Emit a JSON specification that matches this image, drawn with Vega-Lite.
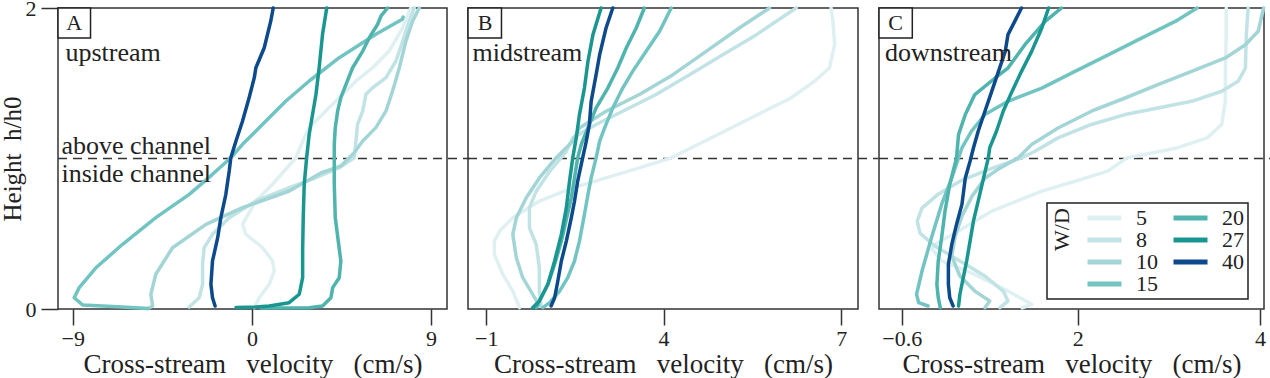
{
  "$schema": "https://vega.github.io/schema/vega-lite/v6.json",
  "padding": {"left": -1, "top": -4, "right": 0, "bottom": 0},
  "background": "white",
  "config": {
    "view": {"stroke": "#333", "strokeWidth": 1.5},
    "axis": {"labelFont": "Liberation Serif", "titleFont": "Liberation Serif", "labelFontSize": 22, "titleFontSize": 27, "labelColor": "#222", "titleColor": "#222", "tickColor": "#333", "tickWidth": 1.5, "grid": false, "domain": false, "titleFontWeight": "normal"},
    "text": {"font": "Liberation Serif", "color": "#222"}
  },
  "bounds": "flush",
  "spacing": 21,
  "resolve": {"scale": {"x": "independent", "color": "independent"}, "legend": {"color": "independent"}},
  "datasets": {
    "A": [
      {"wd":"5","v":7.99,"h":2.0},{"wd":"5","v":7.91,"h":1.98},{"wd":"5","v":7.58,"h":1.869},{"wd":"5","v":6.9,"h":1.714},{"wd":"5","v":6.07,"h":1.603},{"wd":"5","v":5.23,"h":1.515},{"wd":"5","v":4.39,"h":1.404},{"wd":"5","v":3.55,"h":1.294},{"wd":"5","v":2.88,"h":1.205},{"wd":"5","v":2.55,"h":1.116},{"wd":"5","v":2.21,"h":1.005},{"wd":"5","v":1.04,"h":0.829},{"wd":"5","v":0.2,"h":0.718},{"wd":"5","v":-0.47,"h":0.563},{"wd":"5","v":-0.3,"h":0.496},{"wd":"5","v":0.54,"h":0.407},{"wd":"5","v":1.04,"h":0.319},{"wd":"5","v":1.12,"h":0.252},{"wd":"5","v":0.87,"h":0.164},{"wd":"5","v":0.37,"h":0.075},{"wd":"5","v":0.12,"h":0.009},
      {"wd":"8","v":8.16,"h":2.0},{"wd":"8","v":7.91,"h":1.914},{"wd":"8","v":7.58,"h":1.781},{"wd":"8","v":7.24,"h":1.648},{"wd":"8","v":6.74,"h":1.537},{"wd":"8","v":6.07,"h":1.47},{"wd":"8","v":5.73,"h":1.427},{"wd":"8","v":5.57,"h":1.316},{"wd":"8","v":5.31,"h":1.227},{"wd":"8","v":5.23,"h":1.116},{"wd":"8","v":5.14,"h":1.005},{"wd":"8","v":4.39,"h":0.939},{"wd":"8","v":3.22,"h":0.872},{"wd":"8","v":1.88,"h":0.806},{"wd":"8","v":0.2,"h":0.718},{"wd":"8","v":-1.14,"h":0.607},{"wd":"8","v":-1.98,"h":0.496},{"wd":"8","v":-2.4,"h":0.407},{"wd":"8","v":-2.48,"h":0.297},{"wd":"8","v":-2.48,"h":0.164},{"wd":"8","v":-2.65,"h":0.075},{"wd":"8","v":-3.15,"h":0.013},
      {"wd":"10","v":8.41,"h":2.0},{"wd":"10","v":8.08,"h":1.914},{"wd":"10","v":7.74,"h":1.781},{"wd":"10","v":7.41,"h":1.603},{"wd":"10","v":7.07,"h":1.449},{"wd":"10","v":6.74,"h":1.316},{"wd":"10","v":6.23,"h":1.205},{"wd":"10","v":5.57,"h":1.116},{"wd":"10","v":5.13,"h":1.037},{"wd":"10","v":4.47,"h":0.95},{"wd":"10","v":3.47,"h":0.904},{"wd":"10","v":1.88,"h":0.784},{"wd":"10","v":-0.47,"h":0.673},{"wd":"10","v":-2.31,"h":0.562},{"wd":"10","v":-3.99,"h":0.407},{"wd":"10","v":-4.83,"h":0.231},{"wd":"10","v":-5.08,"h":0.098},{"wd":"10","v":-4.99,"h":0.02},{"wd":"10","v":-5.23,"h":0.003},
      {"wd":"15","v":7.6,"h":1.94},{"wd":"15","v":7.56,"h":1.925},{"wd":"15","v":6.23,"h":1.825},{"wd":"15","v":4.39,"h":1.67},{"wd":"15","v":2.88,"h":1.515},{"wd":"15","v":1.71,"h":1.382},{"wd":"15","v":0.54,"h":1.227},{"wd":"15","v":-0.47,"h":1.094},{"wd":"15","v":-1.06,"h":1.005},{"wd":"15","v":-1.98,"h":0.895},{"wd":"15","v":-3.15,"h":0.762},{"wd":"15","v":-4.83,"h":0.607},{"wd":"15","v":-6.5,"h":0.43},{"wd":"15","v":-7.84,"h":0.274},{"wd":"15","v":-8.68,"h":0.142},{"wd":"15","v":-8.93,"h":0.075},{"wd":"15","v":-8.51,"h":0.027},{"wd":"15","v":-6.5,"h":0.013},{"wd":"15","v":-5.23,"h":0.003},
      {"wd":"20","v":6.82,"h":2.0},{"wd":"20","v":6.49,"h":1.947},{"wd":"20","v":6.32,"h":1.892},{"wd":"20","v":5.9,"h":1.803},{"wd":"20","v":5.57,"h":1.714},{"wd":"20","v":5.06,"h":1.603},{"wd":"20","v":4.73,"h":1.493},{"wd":"20","v":4.47,"h":1.404},{"wd":"20","v":4.31,"h":1.316},{"wd":"20","v":4.19,"h":1.205},{"wd":"20","v":4.14,"h":1.094},{"wd":"20","v":4.14,"h":0.829},{"wd":"20","v":4.19,"h":0.607},{"wd":"20","v":4.36,"h":0.43},{"wd":"20","v":4.47,"h":0.319},{"wd":"20","v":4.39,"h":0.208},{"wd":"20","v":4.06,"h":0.142},{"wd":"20","v":3.97,"h":0.075},{"wd":"20","v":3.55,"h":0.02},{"wd":"20","v":2.88,"h":0.009},{"wd":"20","v":0.45,"h":0.007},
      {"wd":"27","v":3.76,"h":2.0},{"wd":"27","v":3.55,"h":1.825},{"wd":"27","v":3.38,"h":1.603},{"wd":"27","v":3.22,"h":1.427},{"wd":"27","v":3.05,"h":1.294},{"wd":"27","v":2.88,"h":1.161},{"wd":"27","v":2.75,"h":1.005},{"wd":"27","v":2.63,"h":0.829},{"wd":"27","v":2.58,"h":0.607},{"wd":"27","v":2.55,"h":0.385},{"wd":"27","v":2.55,"h":0.208},{"wd":"27","v":2.38,"h":0.098},{"wd":"27","v":1.87,"h":0.042},{"wd":"27","v":0.87,"h":0.02},{"wd":"27","v":0.2,"h":0.013},{"wd":"27","v":-0.8,"h":0.01},
      {"wd":"40","v":1.07,"h":2.0},{"wd":"40","v":0.95,"h":1.914},{"wd":"40","v":0.62,"h":1.736},{"wd":"40","v":0.2,"h":1.603},{"wd":"40","v":0.12,"h":1.537},{"wd":"40","v":-0.14,"h":1.404},{"wd":"40","v":-0.47,"h":1.249},{"wd":"40","v":-0.8,"h":1.116},{"wd":"40","v":-1.06,"h":1.005},{"wd":"40","v":-1.14,"h":0.917},{"wd":"40","v":-1.31,"h":0.762},{"wd":"40","v":-1.56,"h":0.607},{"wd":"40","v":-1.72,"h":0.474},{"wd":"40","v":-1.98,"h":0.319},{"wd":"40","v":-2.06,"h":0.164},{"wd":"40","v":-1.98,"h":0.075},{"wd":"40","v":-1.85,"h":0.02}
    ],
    "B": [
      {"wd":"5","v":6.83,"h":2.0},{"wd":"5","v":6.86,"h":1.911},{"wd":"5","v":6.89,"h":1.756},{"wd":"5","v":6.8,"h":1.601},{"wd":"5","v":6.55,"h":1.513},{"wd":"5","v":6.15,"h":1.402},{"wd":"5","v":5.7,"h":1.314},{"wd":"5","v":5.14,"h":1.203},{"wd":"5","v":4.58,"h":1.093},{"wd":"5","v":4.13,"h":1.004},{"wd":"5","v":3.32,"h":0.938},{"wd":"5","v":2.38,"h":0.871},{"wd":"5","v":1.44,"h":0.805},{"wd":"5","v":0.5,"h":0.717},{"wd":"5","v":-0.25,"h":0.606},{"wd":"5","v":-0.62,"h":0.518},{"wd":"5","v":-0.77,"h":0.451},{"wd":"5","v":-0.77,"h":0.363},{"wd":"5","v":-0.53,"h":0.23},{"wd":"5","v":-0.25,"h":0.119},{"wd":"5","v":-0.06,"h":0.009},
      {"wd":"8","v":6.24,"h":2.0},{"wd":"8","v":5.57,"h":1.823},{"wd":"8","v":5.0,"h":1.69},{"wd":"8","v":4.44,"h":1.557},{"wd":"8","v":3.79,"h":1.425},{"wd":"8","v":2.85,"h":1.314},{"wd":"8","v":2.1,"h":1.226},{"wd":"8","v":1.44,"h":1.137},{"wd":"8","v":1.26,"h":1.048},{"wd":"8","v":0.79,"h":0.915},{"wd":"8","v":0.41,"h":0.783},{"wd":"8","v":0.22,"h":0.672},{"wd":"8","v":0.22,"h":0.539},{"wd":"8","v":0.41,"h":0.429},{"wd":"8","v":0.5,"h":0.274},{"wd":"8","v":0.5,"h":0.119},{"wd":"8","v":0.55,"h":0.02},
      {"wd":"10","v":5.79,"h":2.0},{"wd":"10","v":5.28,"h":1.867},{"wd":"10","v":4.72,"h":1.712},{"wd":"10","v":4.16,"h":1.557},{"wd":"10","v":3.32,"h":1.425},{"wd":"10","v":2.38,"h":1.314},{"wd":"10","v":1.63,"h":1.203},{"wd":"10","v":1.44,"h":1.115},{"wd":"10","v":0.97,"h":1.004},{"wd":"10","v":0.5,"h":0.871},{"wd":"10","v":0.13,"h":0.739},{"wd":"10","v":-0.15,"h":0.606},{"wd":"10","v":-0.25,"h":0.496},{"wd":"10","v":-0.15,"h":0.34},{"wd":"10","v":0.03,"h":0.208},{"wd":"10","v":0.31,"h":0.098},{"wd":"10","v":0.5,"h":0.02},
      {"wd":"15","v":4.13,"h":2.0},{"wd":"15","v":3.89,"h":1.845},{"wd":"15","v":3.51,"h":1.712},{"wd":"15","v":3.13,"h":1.579},{"wd":"15","v":2.85,"h":1.468},{"wd":"15","v":2.57,"h":1.336},{"wd":"15","v":2.34,"h":1.203},{"wd":"15","v":2.2,"h":1.115},{"wd":"15","v":2.1,"h":1.004},{"wd":"15","v":1.96,"h":0.871},{"wd":"15","v":1.87,"h":0.761},{"wd":"15","v":1.77,"h":0.628},{"wd":"15","v":1.63,"h":0.451},{"wd":"15","v":1.49,"h":0.319},{"wd":"15","v":1.3,"h":0.208},{"wd":"15","v":1.07,"h":0.119},{"wd":"15","v":0.79,"h":0.042},{"wd":"15","v":0.6,"h":0.009},
      {"wd":"20","v":3.46,"h":2.0},{"wd":"20","v":3.23,"h":1.867},{"wd":"20","v":2.95,"h":1.734},{"wd":"20","v":2.71,"h":1.601},{"wd":"20","v":2.43,"h":1.468},{"wd":"20","v":2.1,"h":1.336},{"wd":"20","v":1.87,"h":1.203},{"wd":"20","v":1.68,"h":1.093},{"wd":"20","v":1.58,"h":1.004},{"wd":"20","v":1.49,"h":0.871},{"wd":"20","v":1.4,"h":0.739},{"wd":"20","v":1.27,"h":0.606},{"wd":"20","v":1.12,"h":0.451},{"wd":"20","v":0.93,"h":0.297},{"wd":"20","v":0.74,"h":0.164},{"wd":"20","v":0.5,"h":0.053},{"wd":"20","v":0.41,"h":0.009},
      {"wd":"27","v":2.24,"h":2.0},{"wd":"27","v":2.01,"h":1.823},{"wd":"27","v":1.87,"h":1.646},{"wd":"27","v":1.77,"h":1.468},{"wd":"27","v":1.63,"h":1.292},{"wd":"27","v":1.54,"h":1.137},{"wd":"27","v":1.44,"h":1.004},{"wd":"27","v":1.35,"h":0.849},{"wd":"27","v":1.26,"h":0.672},{"wd":"27","v":1.12,"h":0.496},{"wd":"27","v":0.93,"h":0.319},{"wd":"27","v":0.74,"h":0.164},{"wd":"27","v":0.5,"h":0.053},{"wd":"27","v":0.31,"h":0.009},
      {"wd":"40","v":2.57,"h":2.0},{"wd":"40","v":2.38,"h":1.867},{"wd":"40","v":2.2,"h":1.69},{"wd":"40","v":2.1,"h":1.557},{"wd":"40","v":1.96,"h":1.38},{"wd":"40","v":1.91,"h":1.226},{"wd":"40","v":1.82,"h":1.112},{"wd":"40","v":1.72,"h":1.004},{"wd":"40","v":1.58,"h":0.849},{"wd":"40","v":1.49,"h":0.716},{"wd":"40","v":1.4,"h":0.606},{"wd":"40","v":1.26,"h":0.451},{"wd":"40","v":1.12,"h":0.319},{"wd":"40","v":1.02,"h":0.186},{"wd":"40","v":0.93,"h":0.075},{"wd":"40","v":0.83,"h":0.02}
    ],
    "C": [
      {"wd":"5","v":3.63,"h":2.0},{"wd":"5","v":3.63,"h":1.823},{"wd":"5","v":3.62,"h":1.601},{"wd":"5","v":3.62,"h":1.38},{"wd":"5","v":3.58,"h":1.226},{"wd":"5","v":3.42,"h":1.137},{"wd":"5","v":3.09,"h":1.07},{"wd":"5","v":2.54,"h":1.004},{"wd":"5","v":2.33,"h":0.916},{"wd":"5","v":1.96,"h":0.849},{"wd":"5","v":1.47,"h":0.783},{"wd":"5","v":0.73,"h":0.65},{"wd":"5","v":0.24,"h":0.518},{"wd":"5","v":-0.11,"h":0.429},{"wd":"5","v":-0.15,"h":0.398},{"wd":"5","v":-0.01,"h":0.319},{"wd":"5","v":0.48,"h":0.23},{"wd":"5","v":0.97,"h":0.119},{"wd":"5","v":1.32,"h":0.031},{"wd":"5","v":1.18,"h":0.007},
      {"wd":"8","v":3.87,"h":2.0},{"wd":"8","v":3.85,"h":1.823},{"wd":"8","v":3.84,"h":1.601},{"wd":"8","v":3.76,"h":1.513},{"wd":"8","v":3.58,"h":1.447},{"wd":"8","v":3.25,"h":1.38},{"wd":"8","v":2.88,"h":1.336},{"wd":"8","v":2.52,"h":1.292},{"wd":"8","v":2.15,"h":1.226},{"wd":"8","v":1.71,"h":1.137},{"wd":"8","v":1.37,"h":1.048},{"wd":"8","v":1.17,"h":1.004},{"wd":"8","v":0.7,"h":0.929},{"wd":"8","v":0.26,"h":0.849},{"wd":"8","v":-0.06,"h":0.763},{"wd":"8","v":-0.3,"h":0.67},{"wd":"8","v":-0.37,"h":0.584},{"wd":"8","v":-0.33,"h":0.504},{"wd":"8","v":-0.11,"h":0.418},{"wd":"8","v":0.26,"h":0.319},{"wd":"8","v":0.63,"h":0.219},{"wd":"8","v":0.9,"h":0.119},{"wd":"8","v":0.97,"h":0.053},{"wd":"8","v":0.85,"h":0.009},
      {"wd":"10","v":4.04,"h":2.0},{"wd":"10","v":3.98,"h":1.845},{"wd":"10","v":3.84,"h":1.756},{"wd":"10","v":3.62,"h":1.668},{"wd":"10","v":3.25,"h":1.579},{"wd":"10","v":2.88,"h":1.491},{"wd":"10","v":2.52,"h":1.402},{"wd":"10","v":2.15,"h":1.314},{"wd":"10","v":1.71,"h":1.203},{"wd":"10","v":1.32,"h":1.093},{"wd":"10","v":1.12,"h":1.004},{"wd":"10","v":0.85,"h":0.936},{"wd":"10","v":0.63,"h":0.869},{"wd":"10","v":0.44,"h":0.75},{"wd":"10","v":0.29,"h":0.617},{"wd":"10","v":0.19,"h":0.484},{"wd":"10","v":0.14,"h":0.352},{"wd":"10","v":0.26,"h":0.219},{"wd":"10","v":0.48,"h":0.119},{"wd":"10","v":0.7,"h":0.053},{"wd":"10","v":0.63,"h":0.009},
      {"wd":"15","v":3.31,"h":2.0},{"wd":"15","v":3.07,"h":1.911},{"wd":"15","v":2.7,"h":1.8},{"wd":"15","v":2.34,"h":1.69},{"wd":"15","v":1.96,"h":1.579},{"wd":"15","v":1.47,"h":1.468},{"wd":"15","v":0.97,"h":1.38},{"wd":"15","v":0.63,"h":1.292},{"wd":"15","v":0.43,"h":1.181},{"wd":"15","v":0.29,"h":1.07},{"wd":"15","v":0.24,"h":1.004},{"wd":"15","v":0.14,"h":0.871},{"wd":"15","v":-0.01,"h":0.695},{"wd":"15","v":-0.16,"h":0.473},{"wd":"15","v":-0.3,"h":0.252},{"wd":"15","v":-0.38,"h":0.098},{"wd":"15","v":-0.35,"h":0.042},{"wd":"15","v":-0.21,"h":0.02},
      {"wd":"20","v":1.76,"h":2.0},{"wd":"20","v":1.52,"h":1.911},{"wd":"20","v":1.22,"h":1.756},{"wd":"20","v":0.97,"h":1.601},{"wd":"20","v":0.78,"h":1.535},{"wd":"20","v":0.48,"h":1.425},{"wd":"20","v":0.34,"h":1.292},{"wd":"20","v":0.24,"h":1.159},{"wd":"20","v":0.21,"h":1.004},{"wd":"20","v":0.11,"h":0.827},{"wd":"20","v":0.04,"h":0.65},{"wd":"20","v":-0.01,"h":0.473},{"wd":"20","v":-0.06,"h":0.319},{"wd":"20","v":-0.08,"h":0.164},{"wd":"20","v":-0.06,"h":0.075},{"wd":"20","v":-0.03,"h":0.009},
      {"wd":"27","v":1.57,"h":2.0},{"wd":"27","v":1.47,"h":1.867},{"wd":"27","v":1.32,"h":1.712},{"wd":"27","v":1.17,"h":1.579},{"wd":"27","v":1.03,"h":1.446},{"wd":"27","v":0.9,"h":1.314},{"wd":"27","v":0.8,"h":1.181},{"wd":"27","v":0.7,"h":1.07},{"wd":"27","v":0.68,"h":1.004},{"wd":"27","v":0.61,"h":0.871},{"wd":"27","v":0.53,"h":0.717},{"wd":"27","v":0.46,"h":0.584},{"wd":"27","v":0.41,"h":0.451},{"wd":"27","v":0.36,"h":0.319},{"wd":"27","v":0.31,"h":0.208},{"wd":"27","v":0.26,"h":0.098},{"wd":"27","v":0.24,"h":0.02},
      {"wd":"40","v":1.17,"h":2.0},{"wd":"40","v":1.07,"h":1.911},{"wd":"40","v":0.97,"h":1.823},{"wd":"40","v":0.93,"h":1.712},{"wd":"40","v":0.83,"h":1.579},{"wd":"40","v":0.73,"h":1.446},{"wd":"40","v":0.63,"h":1.314},{"wd":"40","v":0.53,"h":1.181},{"wd":"40","v":0.46,"h":1.07},{"wd":"40","v":0.41,"h":0.982},{"wd":"40","v":0.34,"h":0.871},{"wd":"40","v":0.29,"h":0.695},{"wd":"40","v":0.21,"h":0.562},{"wd":"40","v":0.14,"h":0.429},{"wd":"40","v":0.09,"h":0.297},{"wd":"40","v":0.09,"h":0.164},{"wd":"40","v":0.11,"h":0.075},{"wd":"40","v":0.16,"h":0.02}
    ]
  },
  "hconcat": [
    {
      "width": 389, "height": 301,
      "layer": [
        {"data": {"values": [{}]}, "mark": {"type": "rule", "strokeDash": [9, 6], "strokeWidth": 1.5, "color": "#333"},
         "encoding": {"x": {"datum": -9.745, "type": "quantitative", "scale": {"domain": [-9.745, 9.805], "nice": false, "zero": false}}, "x2": {"datum": 10.95}, "y": {"datum": 1, "type": "quantitative", "scale": {"domain": [0, 2], "nice": false, "zero": false}}}},
        {"data": {"name": "A"}, "mark": {"type": "line", "strokeWidth": 3.5, "strokeJoin": "round", "strokeCap": "round"},
         "encoding": {
           "x": {"field": "v", "type": "quantitative", "scale": {"domain": [-9.745, 9.805], "nice": false, "zero": false}, "axis": {"values": [-9, 0, 9], "format": "~g", "title": "Cross-stream\u00a0\u00a0\u00a0velocity\u00a0\u00a0\u00a0(cm/s)", "tickSize": 16, "labelPadding": 3, "titlePadding": 2}},
           "y": {"field": "h", "type": "quantitative", "scale": {"domain": [0, 2], "nice": false, "zero": false}, "axis": {"values": [0, 1, 2], "format": "d", "title": "Height\u00a0\u00a0h/h0", "titleFontSize": 25, "tickSize": 17, "labelPadding": 5, "titlePadding": 0}},
           "color": {"field": "wd", "type": "nominal", "scale": {"domain": ["5", "8", "10", "15", "20", "27", "40"], "range": ["#dff0f2", "#c2e3e5", "#a3d5d6", "#72c4c2", "#4fb3ae", "#1a9690", "#0d4a8c"]}, "legend": null},
           "order": {"field": "h"}
         }},
        {"data": {"values": [{}]}, "mark": {"type": "rect", "fill": "white", "stroke": "#222", "strokeWidth": 1.5},
         "encoding": {"x": {"datum": -9.745, "type": "quantitative"}, "x2": {"datum": -8.11}, "y": {"datum": 2, "type": "quantitative"}, "y2": {"datum": 1.8}}},
        {"data": {"values": [{}]}, "mark": {"type": "text", "text": "A", "fontSize": 22},
         "encoding": {"x": {"datum": -8.93, "type": "quantitative"}, "y": {"datum": 1.9, "type": "quantitative"}}},
        {"data": {"values": [{}]}, "mark": {"type": "text", "text": "upstream", "fontSize": 26, "align": "left"},
         "encoding": {"x": {"datum": -9.37, "type": "quantitative"}, "y": {"datum": 1.7, "type": "quantitative"}}},
        {"data": {"values": [{}]}, "mark": {"type": "text", "text": "above channel", "fontSize": 26, "align": "left"},
         "encoding": {"x": {"datum": -9.57, "type": "quantitative"}, "y": {"datum": 1.08, "type": "quantitative"}}},
        {"data": {"values": [{}]}, "mark": {"type": "text", "text": "inside channel", "fontSize": 26, "align": "left"},
         "encoding": {"x": {"datum": -9.57, "type": "quantitative"}, "y": {"datum": 0.9, "type": "quantitative"}}}
      ]
    },
    {
      "width": 390, "height": 301,
      "layer": [
        {"data": {"values": [{}]}, "mark": {"type": "rule", "strokeDash": [9, 6], "strokeWidth": 1.5, "color": "#333"},
         "encoding": {"x": {"datum": -1.513, "type": "quantitative", "scale": {"domain": [-1.513, 4, 7.284], "range": [0, 195.5, 390], "nice": false, "zero": false}}, "x2": {"datum": 7.63}, "y": {"datum": 1, "type": "quantitative", "scale": {"domain": [0, 2], "nice": false, "zero": false}, "axis": null}}},
        {"data": {"name": "B"}, "mark": {"type": "line", "strokeWidth": 3.5, "strokeJoin": "round", "strokeCap": "round"},
         "encoding": {
           "x": {"field": "v", "type": "quantitative", "scale": {"domain": [-1.513, 4, 7.284], "range": [0, 195.5, 390], "nice": false, "zero": false}, "axis": {"values": [-1, 4, 7], "format": "~g", "title": "Cross-stream\u00a0\u00a0\u00a0velocity\u00a0\u00a0\u00a0(cm/s)", "tickSize": 16, "labelPadding": 3, "titlePadding": 2}},
           "y": {"field": "h", "type": "quantitative", "scale": {"domain": [0, 2], "nice": false, "zero": false}, "axis": null},
           "color": {"field": "wd", "type": "nominal", "scale": {"domain": ["5", "8", "10", "15", "20", "27", "40"], "range": ["#dff0f2", "#c2e3e5", "#a3d5d6", "#72c4c2", "#4fb3ae", "#1a9690", "#0d4a8c"]}, "legend": null},
           "order": {"field": "h"}
         }},
        {"data": {"values": [{}]}, "mark": {"type": "rect", "fill": "white", "stroke": "#222", "strokeWidth": 1.5},
         "encoding": {"x": {"datum": -1.513, "type": "quantitative"}, "x2": {"datum": -0.569}, "y": {"datum": 2, "type": "quantitative", "axis": null}, "y2": {"datum": 1.8}}},
        {"data": {"values": [{}]}, "mark": {"type": "text", "text": "B", "fontSize": 22},
         "encoding": {"x": {"datum": -1.034, "type": "quantitative"}, "y": {"datum": 1.9, "type": "quantitative", "axis": null}}},
        {"data": {"values": [{}]}, "mark": {"type": "text", "text": "midstream", "fontSize": 26, "align": "left"},
         "encoding": {"x": {"datum": -1.386, "type": "quantitative"}, "y": {"datum": 1.7, "type": "quantitative", "axis": null}}}
      ]
    },
    {
      "width": 385, "height": 301,
      "layer": [
        {"data": {"values": [{}]}, "mark": {"type": "rule", "strokeDash": [9, 6], "strokeWidth": 1.5, "color": "#333"},
         "encoding": {"x": {"datum": -0.935, "type": "quantitative", "scale": {"domain": [-0.935, 2, 4.044], "range": [0, 198.7, 385], "nice": false, "zero": false}}, "x2": {"datum": 4.11}, "y": {"datum": 1, "type": "quantitative", "scale": {"domain": [0, 2], "nice": false, "zero": false}, "axis": null}}},
        {"data": {"name": "C"}, "mark": {"type": "line", "strokeWidth": 3.5, "strokeJoin": "round", "strokeCap": "round"},
         "encoding": {
           "x": {"field": "v", "type": "quantitative", "scale": {"domain": [-0.935, 2, 4.044], "range": [0, 198.7, 385], "nice": false, "zero": false}, "axis": {"values": [-0.6, 2, 4], "format": "~g", "title": "Cross-stream\u00a0\u00a0\u00a0velocity\u00a0\u00a0\u00a0(cm/s)", "tickSize": 16, "labelPadding": 3, "titlePadding": 2}},
           "y": {"field": "h", "type": "quantitative", "scale": {"domain": [0, 2], "nice": false, "zero": false}, "axis": null},
           "color": {"field": "wd", "type": "nominal", "scale": {"domain": ["5", "8", "10", "15", "20", "27", "40"], "range": ["#dff0f2", "#c2e3e5", "#a3d5d6", "#72c4c2", "#4fb3ae", "#1a9690", "#0d4a8c"]},
             "legend": {"title": "W/D", "orient": "none", "legendX": 168, "legendY": 195, "columns": 2, "titleOrient": "left", "symbolType": "M-1,0H3", "symbolStrokeWidth": 5, "symbolSize": 289, "labelFont": "Liberation Serif", "labelFontSize": 22, "labelColor": "#222", "titleFont": "Liberation Serif", "titleFontSize": 22, "titleFontWeight": "normal", "titleColor": "#222", "strokeColor": "#222", "fillColor": "white", "padding": 4, "rowPadding": 0, "columnPadding": 5, "labelOffset": 29, "titlePadding": 0, "labelExpr": "length(datum.label) < 2 ? '\u2007' + datum.label : datum.label",
               "encode": {"title": {"update": {"angle": {"value": -90}}}, "legend": {"update": {"strokeWidth": {"value": 1.5}}}}}},
           "order": {"field": "h"}
         }},
        {"data": {"values": [{}]}, "mark": {"type": "rect", "fill": "white", "stroke": "#222", "strokeWidth": 1.5},
         "encoding": {"x": {"datum": -0.935, "type": "quantitative"}, "x2": {"datum": -0.443}, "y": {"datum": 2, "type": "quantitative", "axis": null}, "y2": {"datum": 1.8}}},
        {"data": {"values": [{}]}, "mark": {"type": "text", "text": "C", "fontSize": 22},
         "encoding": {"x": {"datum": -0.689, "type": "quantitative"}, "y": {"datum": 1.9, "type": "quantitative", "axis": null}}},
        {"data": {"values": [{}]}, "mark": {"type": "text", "text": "downstream", "fontSize": 26, "align": "left"},
         "encoding": {"x": {"datum": -0.847, "type": "quantitative"}, "y": {"datum": 1.7, "type": "quantitative", "axis": null}}}
      ]
    }
  ]
}
